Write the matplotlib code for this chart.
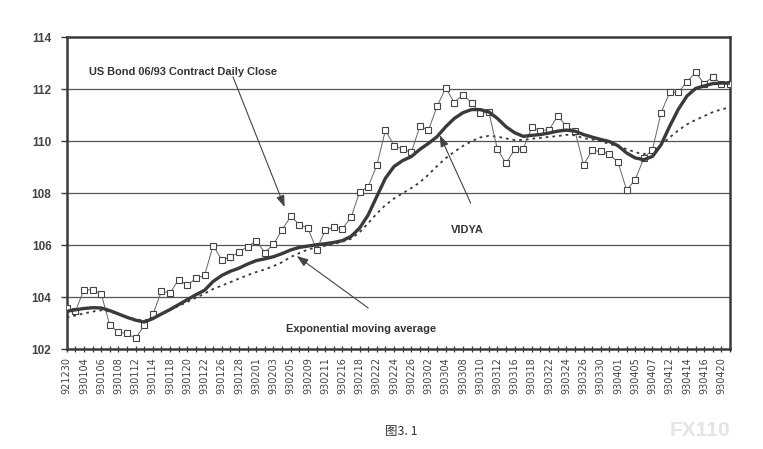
import matplotlib
matplotlib.use("Agg")
import matplotlib.pyplot as plt

dates = ["921230", "921231", "930104", "930105", "930106", "930107", "930108", "930111",
         "930112", "930113", "930114", "930115", "930118", "930119", "930120", "930121",
         "930122", "930125", "930126", "930127", "930128", "930129", "930201", "930202",
         "930203", "930204", "930205", "930208", "930209", "930210", "930211", "930212",
         "930216", "930217", "930218", "930219", "930222", "930223", "930224", "930225",
         "930226", "930301", "930302", "930303", "930304", "930305", "930308", "930309",
         "930310", "930311", "930312", "930315", "930316", "930317", "930318", "930319",
         "930322", "930323", "930324", "930325", "930326", "930329", "930330", "930331",
         "930401", "930402", "930405", "930406", "930407", "930408", "930412", "930413",
         "930414", "930415", "930416", "930419", "930420", "930421"]

close = [103.59, 103.46, 104.29, 104.29, 104.14, 102.93, 102.66, 102.61, 102.42, 102.92,
         103.34, 104.23, 104.17, 104.68, 104.47, 104.73, 104.84, 105.99, 105.44, 105.54,
         105.74, 105.95, 106.17, 105.72, 106.04, 106.59, 107.11, 106.80, 106.66, 105.83,
         106.57, 106.70, 106.64, 107.07, 108.04, 108.26, 109.07, 110.43, 109.83, 109.70,
         109.57, 110.58, 110.43, 111.35, 112.05, 111.49, 111.80, 111.48, 111.07, 111.13,
         109.69, 109.15, 109.69, 109.72, 110.54, 110.41, 110.45, 110.97, 110.58, 110.39,
         109.10, 109.65, 109.61, 109.51, 109.19, 108.13, 108.52, 109.36, 109.68, 111.10,
         111.88, 111.88, 112.29, 112.65, 112.22, 112.48, 112.22, 112.22]

vidya = [103.46, 103.52, 103.57, 103.60, 103.59, 103.49, 103.36, 103.23, 103.12, 103.05,
         103.18, 103.36, 103.53, 103.72, 103.91, 104.10, 104.27, 104.61, 104.84, 105.00,
         105.12, 105.28, 105.41, 105.48, 105.56, 105.68, 105.82, 105.92, 105.97, 106.02,
         106.06, 106.11, 106.18, 106.34, 106.66, 107.17, 107.88, 108.58, 109.03, 109.26,
         109.41, 109.69, 109.92, 110.18, 110.56, 110.88, 111.10, 111.22, 111.22, 111.13,
         110.88, 110.56, 110.33, 110.19, 110.23, 110.26, 110.32, 110.39, 110.43, 110.39,
         110.26, 110.16, 110.07, 109.99, 109.83, 109.55, 109.36, 109.29, 109.42, 109.87,
         110.58, 111.23, 111.74, 112.03, 112.13, 112.22, 112.24, 112.24]

ema = [103.23, 103.30, 103.38, 103.45, 103.50, 103.45, 103.35, 103.25, 103.15, 103.10,
       103.22, 103.37, 103.52, 103.67, 103.82, 103.98, 104.14, 104.32, 104.45, 104.58,
       104.72, 104.85, 104.97, 105.07, 105.20, 105.35, 105.55, 105.70, 105.84, 105.92,
       105.98, 106.05, 106.14, 106.25, 106.50, 106.85, 107.22, 107.55, 107.80, 108.00,
       108.20, 108.42, 108.72, 109.05, 109.35, 109.60, 109.82, 110.00, 110.15, 110.21,
       110.18, 110.11, 110.05, 110.05, 110.10, 110.13, 110.17, 110.20, 110.25, 110.23,
       110.12, 110.07, 110.00, 109.90, 109.80, 109.70, 109.58, 109.51, 109.58, 109.85,
       110.15, 110.42, 110.65, 110.82, 110.97, 111.12, 111.23, 111.30]

yticks = [102, 104, 106, 108, 110, 112, 114]

fig = plt.figure(figsize=(7.63, 4.49), dpi=100)
ax = fig.add_axes([66.7 / 763, 1 - 349.3 / 449, (730 - 66.7) / 763, (349.3 - 37.3) / 449])

x = list(range(len(dates)))
dark = "#3a3a3a"

for yv in yticks[1:-1]:
    ax.axhline(yv, color="#555555", lw=0.9, zorder=1)

ax.plot(x, ema, color=dark, lw=1.3, linestyle=(0, (1.5, 2.2)), zorder=2)
ax.plot(x, close, color="#666666", lw=0.7, marker="s", markersize=4.8,
        markerfacecolor="white", markeredgecolor="#444444", markeredgewidth=0.8, zorder=3)
ax.plot(x, vidya, color=dark, lw=2.4, zorder=4, solid_capstyle="round")

ax.set_xlim(0, len(dates) - 1)
ax.set_ylim(102, 114)
ax.set_yticks(yticks)
ax.set_yticklabels([str(v) for v in yticks], fontsize=8.5, fontweight="bold",
                   color="#444444", family="Liberation Sans")
ax.set_xticks(x, minor=True)
ax.set_xticks(x[::2])
ax.set_xticklabels(dates[::2], rotation=90, fontsize=7, color="#444444",
                   family="Liberation Sans Narrow")
ax.tick_params(axis="y", direction="out", length=4, width=1, color=dark, pad=7)
ax.tick_params(axis="x", which="both", direction="inout", length=5, width=0.9,
               color=dark, pad=3)
for s in ax.spines.values():
    s.set_linewidth(1.8)
    s.set_color(dark)

tkw = dict(fontsize=7.9, fontweight="bold", color="#333333", family="Liberation Sans")
ax.text(2.6, 112.68, "US Bond 06/93 Contract Daily Close", ha="left", va="center", **tkw)
ax.text(44.6, 106.59, "VIDYA", ha="left", va="center", **tkw)
ax.text(25.5, 102.77, "Exponential moving average", ha="left", va="center", **tkw)

akw = dict(arrowstyle="-|>,head_length=0.7,head_width=0.25", color="#444444", lw=0.8,
           mutation_scale=10, shrinkA=0, shrinkB=0)
ax.annotate("", xy=(25.3, 107.47), xytext=(19.3, 112.48), arrowprops=akw)
ax.annotate("", xy=(43.3, 110.24), xytext=(46.9, 107.62), arrowprops=akw)
ax.annotate("", xy=(26.7, 105.59), xytext=(35.0, 103.59), arrowprops=akw)

fig.text(401 / 763, 1 - 431 / 449, "图3. 1", ha="center", va="center", fontsize=9,
         color="#333333", family=["Noto Sans CJK SC", "DejaVu Sans"])
fig.text(700 / 763, 1 - 430 / 449, "FX110", ha="center", va="center", fontsize=15,
         fontweight="bold", color="#e4e4e4", family="Liberation Sans")

fig.savefig("out.png", dpi=100)
